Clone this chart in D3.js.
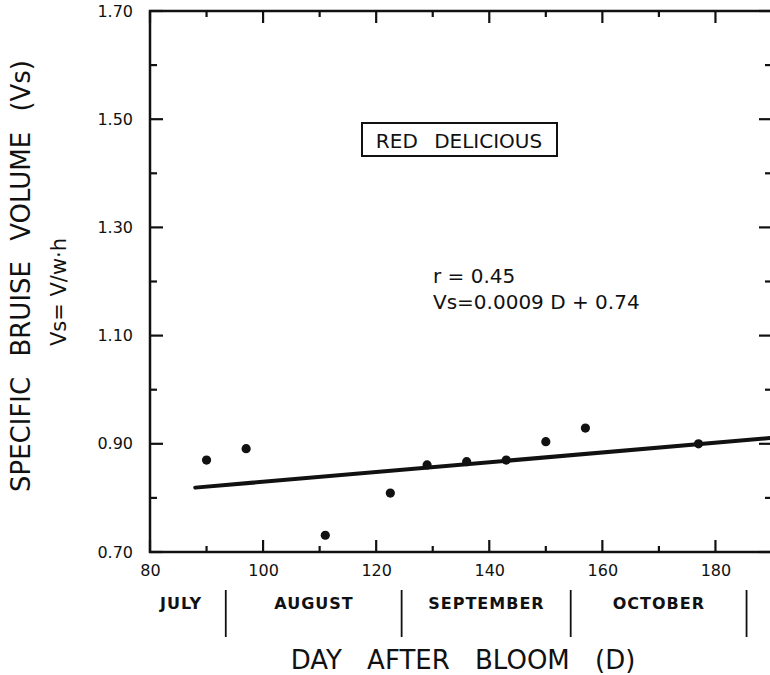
<!DOCTYPE html>
<html>
<head>
<meta charset="utf-8">
<script src="https://cdn.jsdelivr.net/npm/d3@7"></script>
<style>
    body { margin: 0; background: #fff; }
    text { font-family: "DejaVu Sans", sans-serif; fill: #111; }
    .axis path { display: none; }
    .tick-mark { stroke: #111; stroke-width: 2.2; }
</style>
</head>
<body>
<div id="chart"></div>
<script>
// data (Red Delicious)
let days = [90, 97, 111, 122.5, 129, 136, 143, 150, 157, 177];
let bruiseVs = [0.870, 0.891, 0.731, 0.809, 0.861, 0.867, 0.870, 0.904, 0.929, 0.900];

// fitted line Vs = 0.0009 D + 0.74, end points as drawn
let fitDays = [88, 190];
let fitVs = [0.819, 0.911];

let xTicks = [80, 100, 120, 140, 160, 180];
let xMinor = [90, 110, 130, 150, 170];
let yTicks = [0.70, 0.90, 1.10, 1.30, 1.50, 1.70];
let yMinor = [0.80, 1.00, 1.20, 1.40, 1.60];

let months = ['JULY', 'AUGUST', 'SEPTEMBER', 'OCTOBER'];
let monthMid = [85.5, 109, 139.5, 170];
let monthEdges = [93.4, 124.5, 154.4, 185.5];

let width = 770, height = 675;
let plotLeft = 150, plotRight = 772, plotTop = 11, plotBottom = 552;

let svg = d3.select('#chart')
    .append('svg')
    .attr('width', width)
    .attr('height', height);

let x = d3.scaleLinear().domain([80, 190]).range([plotLeft, plotRight]);
let y = d3.scaleLinear().domain([0.7, 1.7]).range([plotBottom, plotTop]);

// tick labels through d3 axes (tick lines drawn separately below)
let xAxis = d3.axisBottom(x).tickValues(xTicks).tickSize(0).tickPadding(13);
svg.append('g')
    .attr('class', 'axis')
    .attr('transform', `translate(0, ${plotBottom})`)
    .call(xAxis)
    .selectAll('text')
    .style('font-size', '16px');

let yAxis = d3.axisLeft(y).tickValues(yTicks).tickSize(0).tickPadding(17).tickFormat(d3.format('.2f'));
svg.append('g')
    .attr('class', 'axis')
    .attr('transform', `translate(${plotLeft}, 0)`)
    .call(yAxis)
    .selectAll('text')
    .style('font-size', '16px');

// inward tick marks on all four sides
function xTickMarks(vals, len) {
    [[plotBottom, -len], [plotTop, len]].forEach(function (side) {
        svg.selectAll(null)
            .data(vals)
            .enter()
            .append('line')
            .attr('class', 'tick-mark')
            .attr('x1', d => x(d))
            .attr('x2', d => x(d))
            .attr('y1', side[0])
            .attr('y2', side[0] + side[1]);
    });
}
function yTickMarks(vals, len) {
    [[plotLeft, len], [plotRight, -len]].forEach(function (side) {
        svg.selectAll(null)
            .data(vals)
            .enter()
            .append('line')
            .attr('class', 'tick-mark')
            .attr('x1', side[0])
            .attr('x2', side[0] + side[1])
            .attr('y1', d => y(d))
            .attr('y2', d => y(d));
    });
}
xTickMarks(xTicks, 12);
xTickMarks(xMinor, 6);
yTickMarks(yTicks, 13);
yTickMarks(yMinor, 7);

// frame
svg.append('rect')
    .attr('x', plotLeft)
    .attr('y', plotTop)
    .attr('width', plotRight - plotLeft)
    .attr('height', plotBottom - plotTop)
    .style('fill', 'none')
    .style('stroke', '#111')
    .style('stroke-width', 2.5);

// fitted line
let line = d3.line()
    .x(d => x(d[0]))
    .y(d => y(d[1]));
svg.append('path')
    .datum(fitDays.map((d, i) => [d, fitVs[i]]))
    .attr('d', line)
    .style('fill', 'none')
    .style('stroke', '#111')
    .style('stroke-width', 4)
    .style('stroke-linecap', 'round');

// points
svg.selectAll('circle.pt')
    .data(days)
    .enter()
    .append('circle')
    .attr('class', 'pt')
    .attr('cx', d => x(d))
    .attr('cy', (d, i) => y(bruiseVs[i]))
    .attr('r', 4.6)
    .style('fill', '#111');

// month row
svg.selectAll('line.month')
    .data(monthEdges)
    .enter()
    .append('line')
    .attr('class', 'month')
    .attr('x1', d => x(d))
    .attr('x2', d => x(d))
    .attr('y1', 590)
    .attr('y2', 637)
    .style('stroke', '#111')
    .style('stroke-width', 1.8);

svg.selectAll('text.month')
    .data(months)
    .enter()
    .append('text')
    .attr('class', 'month')
    .attr('x', (d, i) => x(monthMid[i]))
    .attr('y', 609)
    .attr('text-anchor', 'middle')
    .style('font-size', '16px')
    .style('font-weight', 'bold')
    .style('letter-spacing', '1px')
    .text(d => d);

// axis titles
svg.append('text')
    .attr('x', 463)
    .attr('y', 669)
    .attr('text-anchor', 'middle')
    .style('font-size', '26px')
    .style('word-spacing', '17px')
    .text('DAY AFTER BLOOM (D)');

svg.append('text')
    .attr('transform', 'translate(30, 276) rotate(-90)')
    .attr('text-anchor', 'middle')
    .style('font-size', '26px')
    .style('word-spacing', '12px')
    .text('SPECIFIC BRUISE VOLUME (Vs)');

svg.append('text')
    .attr('transform', 'translate(66, 292) rotate(-90)')
    .attr('text-anchor', 'middle')
    .style('font-size', '21px')
    .text('Vs= V/w\u00b7h');

// annotation box
svg.append('rect')
    .attr('x', 362)
    .attr('y', 123)
    .attr('width', 195)
    .attr('height', 33)
    .style('fill', 'none')
    .style('stroke', '#111')
    .style('stroke-width', 2);

svg.append('text')
    .attr('x', 459)
    .attr('y', 148)
    .attr('text-anchor', 'middle')
    .style('font-size', '20px')
    .style('word-spacing', '10px')
    .text('RED DELICIOUS');

svg.append('text')
    .attr('x', 433)
    .attr('y', 283)
    .style('font-size', '20px')
    .text('r = 0.45');

svg.append('text')
    .attr('x', 433)
    .attr('y', 309)
    .style('font-size', '20px')
    .text('Vs=0.0009 D + 0.74');
</script>
</body>
</html>
